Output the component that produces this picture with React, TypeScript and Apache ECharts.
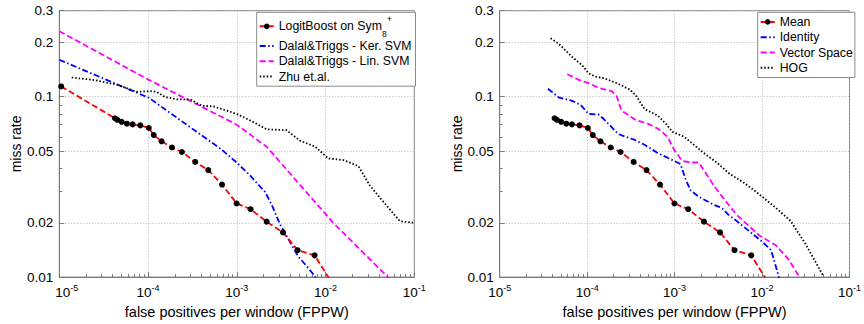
import React, { useEffect, useRef } from "react";
import * as echarts from "echarts";

// ---------- data ----------
const xMajorTicks = [1e-5, 1e-4, 1e-3, 1e-2, 1e-1];
const yMajorTicks = [0.01, 0.02, 0.05, 0.1, 0.2, 0.3];
const yMinorTicks = [0.03, 0.04, 0.06, 0.07, 0.08, 0.09];
const minorMultipliers = [2, 3, 4, 5, 6, 7, 8, 9];
const decades = [1e-5, 1e-4, 1e-3, 1e-2];

// LogitBoost on Sym8+ (left) / Mean (right)
const redX = [1.05e-5, 4.24e-5, 4.51e-5, 5.04e-5, 5.78e-5, 6.7e-5, 8.18e-5, 1.02e-4, 1.16e-4, 1.42e-4, 1.86e-4, 2.41e-4, 3.4e-4, 4.77e-4, 6.81e-4, 9.96e-4, 1.43e-3, 2.17e-3, 3.31e-3, 4.84e-3, 7.53e-3, 1.22e-2];
const redY = [0.1141, 0.076, 0.0745, 0.0726, 0.0709, 0.0703, 0.0694, 0.0671, 0.0613, 0.0566, 0.0523, 0.0494, 0.0435, 0.0392, 0.0326, 0.0256, 0.0238, 0.0203, 0.0177, 0.0141, 0.0132, 0.00906];

// Dalal&Triggs - Ker. SVM
const kerX = [1e-5, 1.02e-4, 6.8e-4, 1.0e-3, 1.41e-3, 1.91e-3, 2.08e-3, 2.47e-3, 3.07e-3, 3.8e-3, 4.93e-3, 6.13e-3, 7.6e-3, 8.2e-3];
const kerY = [0.1603, 0.0987, 0.0508, 0.0431, 0.0366, 0.031, 0.0297, 0.0252, 0.0196, 0.0163, 0.013, 0.0115, 0.0101, 0.0093];

// Dalal&Triggs - Lin. SVM
const linX = [1e-5, 1.02e-4, 1.0e-3, 2.17e-3, 1.22e-2, 5.6e-2];
const linY = [0.231, 0.124, 0.07, 0.0528, 0.02, 0.0095];

// Zhu et.al.
const zhuX = [1.38e-5, 2.42e-5, 4.44e-5, 7.45e-5, 1.05e-4, 1.25e-4, 1.55e-4, 2.1e-4, 2.97e-4, 4.02e-4, 5.43e-4, 7.69e-4, 9.97e-4, 1.41e-3, 2.17e-3, 3.64e-3, 5.15e-3, 7.6e-3, 1.07e-2, 1.58e-2, 2.34e-2, 3.16e-2, 4.47e-2, 6.9e-2, 0.1];
const zhuY = [0.1278, 0.124, 0.1167, 0.1065, 0.1074, 0.1065, 0.0997, 0.0968, 0.0968, 0.0892, 0.0884, 0.0838, 0.0803, 0.074, 0.066, 0.0652, 0.0571, 0.053, 0.0455, 0.0446, 0.0413, 0.0322, 0.0262, 0.0204, 0.02];

// Identity
const idX = [3.56e-5, 4.77e-5, 6.75e-5, 8.39e-5, 1.04e-4, 1.35e-4, 1.54e-4, 2.27e-4, 3.5e-4, 4.53e-4, 6.4e-4, 9.86e-4, 1.17e-3, 1.33e-3, 1.52e-3, 1.89e-3, 2.79e-3, 3.46e-3, 4.11e-3, 5.11e-3, 1.02e-2, 1.27e-2, 1.57e-2];
const idY = [0.1108, 0.0989, 0.0949, 0.0902, 0.0803, 0.0797, 0.0755, 0.0621, 0.0576, 0.0542, 0.0488, 0.0441, 0.0423, 0.0351, 0.0303, 0.0279, 0.0252, 0.0242, 0.0222, 0.0205, 0.0156, 0.0141, 0.0099];

// Vector Space
const vsX = [5.93e-5, 8.03e-5, 1.04e-4, 1.35e-4, 1.91e-4, 2.17e-4, 2.47e-4, 3.65e-4, 4.93e-4, 6.4e-4, 8.29e-4, 9.86e-4, 1.22e-3, 1.52e-3, 1.89e-3, 2.24e-3, 2.79e-3, 3.61e-3, 5.11e-3, 9.33e-3, 1.44e-2, 2.03e-2, 2.64e-2];
const vsY = [0.1332, 0.124, 0.119, 0.112, 0.1074, 0.1009, 0.0838, 0.074, 0.0709, 0.0667, 0.0601, 0.0509, 0.0441, 0.0432, 0.0432, 0.0381, 0.0323, 0.0274, 0.0222, 0.017, 0.015, 0.01245, 0.0101];

// HOG
const hogX = [3.82e-5, 4.77e-5, 6.75e-5, 8.75e-5, 1.04e-4, 1.24e-4, 1.54e-4, 2.17e-4, 3.07e-4, 3.65e-4, 4.53e-4, 6.4e-4, 7.94e-4, 9.44e-4, 1.28e-3, 1.66e-3, 2.15e-3, 3.03e-3, 4.28e-3, 6.06e-3, 8.57e-3, 1.44e-2, 2.12e-2, 3.13e-2, 5.04e-2];
const hogY = [0.211, 0.196, 0.166, 0.1497, 0.1349, 0.1294, 0.1268, 0.119, 0.1097, 0.1009, 0.0855, 0.0787, 0.0709, 0.0639, 0.0601, 0.0542, 0.0488, 0.0432, 0.0373, 0.0336, 0.0297, 0.0242, 0.0205, 0.0153, 0.0101];

const leftNames = ["LogitBoost on Sym8+", "Dalal&Triggs - Ker. SVM", "Dalal&Triggs - Lin. SVM", "Zhu et.al."];
const rightNames = ["Mean", "Identity", "Vector Space", "HOG"];

// ---------- styling ----------
const FONT = "'Liberation Sans', Arial, Helvetica, sans-serif";
const AXIS_COLOR = "#7a7a7a";
const GRID_COLOR = "#b4b4b4";
const RED = "#ff0000";
const BLUE = "#0000ff";
const MAGENTA = "#ff00ff";
const BLACK = "#000000";
const DASH = [6, 3];
const DASHDOT = [6, 2.5, 1.5, 2.5];
const DOT = [1.5, 2];
const LW = 1.8;

const xMinorTicks: number[] = [];
decades.forEach((d) => minorMultipliers.forEach((m) => xMinorTicks.push(d * m)));

const pairs = (xs: number[], ys: number[]) => xs.map((x, i) => [x, ys[i]]);

function xAxes(gridIndex: number, shiftMin: boolean) {
  return [
    {
      type: "log",
      logBase: 10,
      gridIndex,
      min: 1e-5,
      max: 0.1,
      position: "bottom",
      name: "false positives per window (FPPW)",
      nameLocation: "middle",
      nameGap: 21,
      nameTextStyle: { color: "#000", fontSize: 14.5, fontFamily: FONT },
      axisLine: { show: true, lineStyle: { color: AXIS_COLOR, width: 1 } },
      axisTick: { show: true, inside: true, length: 5, customValues: xMajorTicks, lineStyle: { color: AXIS_COLOR } },
      axisLabel: {
        show: true,
        customValues: xMajorTicks,
        margin: 6,
        color: "#000",
        fontFamily: FONT,
        formatter: (v: number) => {
          const e = Math.round(Math.log10(v));
          return shiftMin && e === -5 ? `{bp|10}{s|${e}}` : `{b|10}{s|${e}}`;
        },
        rich: {
          b: { fontSize: 13.5, lineHeight: 18, verticalAlign: "middle", fontFamily: FONT, color: "#000" },
          bp: { fontSize: 13.5, lineHeight: 18, verticalAlign: "middle", fontFamily: FONT, color: "#000", padding: [0, 0, 0, 15] },
          s: { fontSize: 9, lineHeight: 10, verticalAlign: "top", fontFamily: FONT, color: "#000" },
        },
      },
      splitLine: { show: true, lineStyle: { color: GRID_COLOR, type: [1, 2], width: 1 } },
      minorTick: { show: false },
      minorSplitLine: { show: false },
    },
    {
      type: "log",
      logBase: 10,
      gridIndex,
      min: 1e-5,
      max: 0.1,
      position: "bottom",
      axisLine: { show: false },
      axisLabel: { show: false },
      splitLine: { show: false },
      axisTick: { show: true, inside: true, length: 3, customValues: xMinorTicks, lineStyle: { color: AXIS_COLOR } },
    },
  ];
}

function yAxes(gridIndex: number) {
  return [
    {
      type: "log",
      logBase: 10,
      gridIndex,
      min: 0.01,
      max: 0.3,
      position: "left",
      name: "miss rate",
      nameLocation: "middle",
      nameGap: 35,
      nameRotate: 90,
      nameTextStyle: { color: "#000", fontSize: 14, fontFamily: FONT },
      axisLine: { show: true, lineStyle: { color: AXIS_COLOR, width: 1 } },
      axisTick: { show: true, inside: true, length: 5, customValues: yMajorTicks, lineStyle: { color: AXIS_COLOR } },
      axisLabel: {
        show: true,
        customValues: yMajorTicks,
        margin: 6,
        color: "#000",
        fontSize: 13.5,
        fontFamily: FONT,
        formatter: (v: number) => String(+v.toPrecision(2)),
      },
      splitLine: { show: true, lineStyle: { color: GRID_COLOR, type: [1, 2], width: 1 } },
      minorTick: { show: false },
      minorSplitLine: { show: false },
    },
    {
      type: "log",
      logBase: 10,
      gridIndex,
      min: 0.01,
      max: 0.3,
      position: "left",
      axisLine: { show: false },
      axisLabel: { show: false },
      splitLine: { show: false },
      axisTick: { show: true, inside: true, length: 3, customValues: yMinorTicks, lineStyle: { color: AXIS_COLOR } },
    },
  ];
}

function lineSeries(name: string, xi: number, xs: number[], ys: number[], color: string, type: number[], withDots = false) {
  return {
    type: "line",
    name,
    xAxisIndex: xi,
    yAxisIndex: xi,
    data: pairs(xs, ys),
    clip: true,
    smooth: false,
    symbol: withDots ? "circle" : "none",
    symbolSize: 6,
    showSymbol: withDots,
    showAllSymbol: true,
    itemStyle: { color: withDots ? BLACK : color },
    lineStyle: { color, width: LW, type },
    emphasis: { disabled: true },
    z: withDots ? 4 : 3,
  };
}

const legendData = (names: string[]) =>
  names.map((n, i) => (i === 0 ? { name: n } : { name: n, itemStyle: { opacity: 0 } }));

const legendCommon = {
  orient: "vertical",
  itemWidth: 14,
  itemHeight: 7,
  itemGap: 0,
  selectedMode: false,
  borderColor: "#8a8a8a",
  borderWidth: 1,
  borderRadius: 0,
  backgroundColor: "#ffffff",
  textStyle: {
    fontSize: 12.3,
    lineHeight: 15.3,
    color: "#000",
    fontFamily: FONT,
    rich: {
      a: { fontSize: 12.3, lineHeight: 24, verticalAlign: "middle", color: "#000", fontFamily: FONT },
      sub: { fontSize: 8.5, lineHeight: 10, verticalAlign: "bottom", color: "#000", fontFamily: FONT },
      sup: { fontSize: 9, lineHeight: 14, verticalAlign: "top", color: "#000", fontFamily: FONT },
    },
  },
};

export default function App() {
  const ref = useRef<HTMLDivElement>(null);
  useEffect(() => {
    if (!ref.current) return;
    const chart = echarts.init(ref.current, null, { renderer: "svg" });
    const option = {
      animation: false,
      backgroundColor: "#ffffff",
      grid: [
        { left: 59.3, top: 10.7, width: 355, height: 273.3, show: true, borderColor: AXIS_COLOR, borderWidth: 1, backgroundColor: "transparent" },
        { left: 499.7, top: 10.7, width: 355, height: 273.3, show: true, borderColor: AXIS_COLOR, borderWidth: 1, backgroundColor: "transparent" },
      ],
      xAxis: [...xAxes(0, true), ...xAxes(1, false)],
      yAxis: [...yAxes(0), ...yAxes(1)],
      legend: [
        {
          ...legendCommon,
          data: legendData(leftNames),
          left: 256.7,
          top: 12.3,
          padding: [2, 4, 2, 2],
          formatter: (n: string) => (n === leftNames[0] ? "{a|LogitBoost on Sym}{sub|8}{sup|+}" : n),
        },
        {
          ...legendCommon,
          data: legendData(rightNames),
          left: 757.7,
          top: 12.3,
          padding: [2, 2, 2, 2],
        },
      ],
      series: [
        lineSeries(leftNames[0], 0, redX, redY, RED, DASH, true),
        lineSeries(leftNames[1], 0, kerX, kerY, BLUE, DASHDOT),
        lineSeries(leftNames[2], 0, linX, linY, MAGENTA, DASH),
        lineSeries(leftNames[3], 0, zhuX, zhuY, BLACK, DOT),
        lineSeries(rightNames[0], 2, redX.slice(1), redY.slice(1), RED, DASH, true),
        lineSeries(rightNames[1], 2, idX, idY, BLUE, DASHDOT),
        lineSeries(rightNames[2], 2, vsX, vsY, MAGENTA, DASH),
        lineSeries(rightNames[3], 2, hogX, hogY, BLACK, DOT),
      ],
    };
    chart.setOption(option as any);
    return () => chart.dispose();
  }, []);
  return (
    <div
      ref={ref}
      style={{ position: "absolute", left: 0, top: 0, width: 864, height: 324, background: "#fff" }}
    />
  );
}
